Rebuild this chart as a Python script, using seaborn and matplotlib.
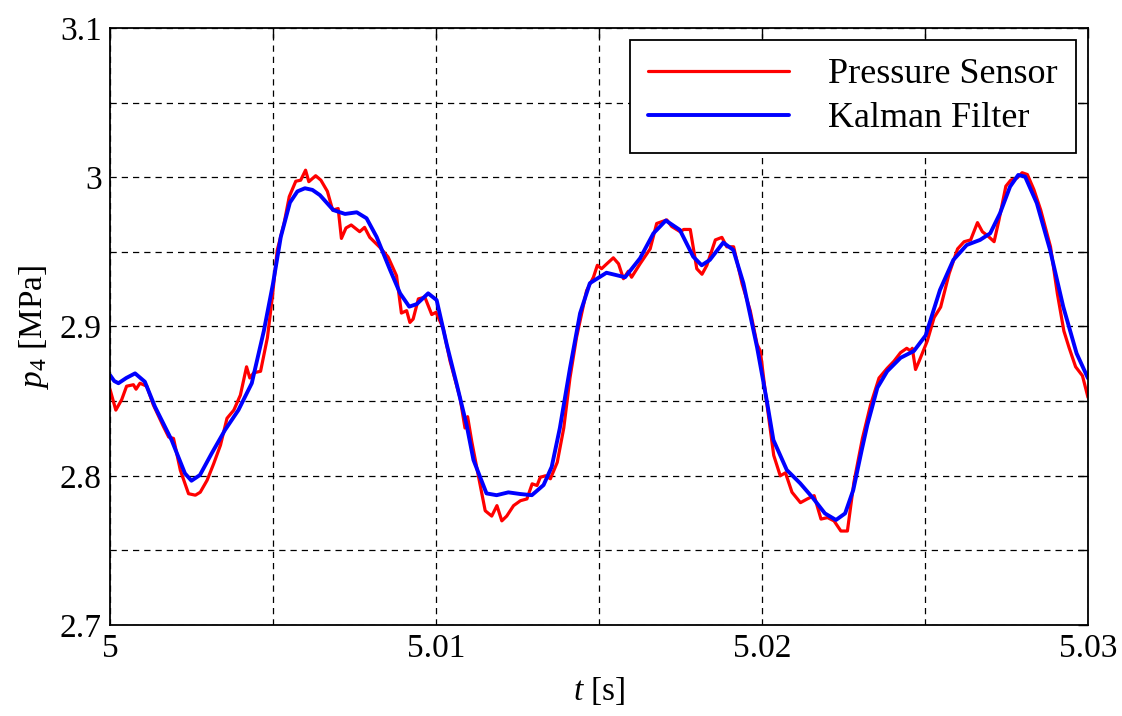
import numpy as np
import pandas as pd
import matplotlib
matplotlib.use("Agg")
import matplotlib.pyplot as plt
import seaborn as sns

# ---- data ----
t_sensor = [5.0, 5.00018, 5.00036, 5.00051, 5.00072, 5.00080, 5.00092, 5.00113, 5.00133, 5.00164,
            5.0018, 5.00195, 5.00216, 5.00241, 5.00262, 5.00277, 5.00298, 5.00318, 5.00339, 5.00359,
            5.0038, 5.004, 5.00419, 5.00429, 5.00441, 5.00462, 5.00483, 5.00498, 5.00513, 5.00534,
            5.0055, 5.0057, 5.00585, 5.006, 5.0061, 5.00631, 5.00647, 5.00667, 5.00683, 5.00700,
            5.0071, 5.00724, 5.0074, 5.00766, 5.00781, 5.00797, 5.00828, 5.00853, 5.00879, 5.00894,
            5.00910, 5.0092, 5.0093, 5.00946, 5.00966, 5.00987, 5.01, 5.01022, 5.01043, 5.01074,
            5.01089, 5.01097, 5.0111, 5.0113, 5.01151, 5.01171, 5.01187, 5.01202, 5.01217, 5.01238,
            5.01259, 5.01279, 5.01295, 5.0131, 5.0132, 5.01336, 5.01351, 5.01372, 5.01392, 5.01411,
            5.01431, 5.01462, 5.01483, 5.01495, 5.01508, 5.01524, 5.01544, 5.0156, 5.01575, 5.0159,
            5.016, 5.01626, 5.01657, 5.01677, 5.01708, 5.01723, 5.01749, 5.0176, 5.0178, 5.018,
            5.01816, 5.01831, 5.01857, 5.01877, 5.01892, 5.01913, 5.01939, 5.01964, 5.01985, 5.01995,
            5.0201, 5.02036, 5.02056, 5.02072, 5.02092, 5.02118, 5.02139, 5.0216, 5.02181, 5.02201,
            5.02221, 5.02242, 5.02262, 5.02282, 5.02308, 5.02333, 5.02359, 5.02384, 5.02405, 5.02425,
            5.02444, 5.02456, 5.02461, 5.02471, 5.02482, 5.02507, 5.02528, 5.02548, 5.02574, 5.026,
            5.0262, 5.0264, 5.02661, 5.02676, 5.02691, 5.02712, 5.02727, 5.02748, 5.02763, 5.02783,
            5.02798, 5.02814, 5.02834, 5.02855, 5.02885, 5.02906, 5.02926, 5.02942, 5.02962, 5.02983,
            5.03]
p_sensor = [2.858, 2.844, 2.851, 2.860, 2.861, 2.858, 2.862, 2.860, 2.8475, 2.833,
            2.826, 2.825, 2.8036, 2.788, 2.787, 2.789, 2.797, 2.808, 2.8205, 2.8385,
            2.844, 2.854, 2.873, 2.8655, 2.869, 2.870, 2.8926, 2.9196, 2.951, 2.969,
            2.987, 2.9973, 2.998, 3.0047, 2.997, 3.001, 2.998, 2.9905, 2.978, 2.979,
            2.959, 2.966, 2.968, 2.9635, 2.9664, 2.9597, 2.953, 2.9466, 2.934, 2.909,
            2.9106, 2.9027, 2.905, 2.9185, 2.9196, 2.908, 2.9095, 2.899, 2.877, 2.852,
            2.832, 2.8396, 2.8227, 2.800, 2.7766, 2.773, 2.780, 2.7698, 2.773, 2.780,
            2.7833, 2.7845, 2.7946, 2.7935, 2.799, 2.800, 2.798, 2.809, 2.832, 2.8655,
            2.8926, 2.924, 2.933, 2.941, 2.9387, 2.942, 2.946, 2.942, 2.932, 2.937,
            2.933, 2.942, 2.952, 2.969, 2.9714, 2.967, 2.9635, 2.965, 2.965, 2.9387,
            2.935, 2.941, 2.958, 2.9597, 2.9534, 2.9534, 2.9286, 2.9106, 2.888, 2.8835,
            2.8565, 2.8137, 2.800, 2.802, 2.789, 2.782, 2.7845, 2.7867, 2.771, 2.772,
            2.7698, 2.763, 2.763, 2.7957, 2.825, 2.8475, 2.8655, 2.872, 2.8768, 2.8825,
            2.8854, 2.8836, 2.8854, 2.8712, 2.8768, 2.8903, 2.906, 2.913, 2.9354, 2.952,
            2.9568, 2.958, 2.9696, 2.9635, 2.961, 2.9568, 2.9714, 2.994, 2.998, 2.9996,
            3.003, 3.0018, 2.9917, 2.978, 2.9534, 2.922, 2.897, 2.8858, 2.873, 2.867,
            2.8525]

t_kalman = [5.0, 5.00013, 5.00026, 5.0005, 5.00077, 5.00107, 5.00138, 5.00189, 5.0023, 5.0025,
            5.00276, 5.00312, 5.00353, 5.00394, 5.00435, 5.00472, 5.005, 5.00524, 5.00552, 5.00575,
            5.00598, 5.00621, 5.00644, 5.00685, 5.00721, 5.00757, 5.00787, 5.00818, 5.00859, 5.0089,
            5.00918, 5.00941, 5.00976, 5.01002, 5.01033, 5.01064, 5.01094, 5.01115, 5.01155, 5.01186,
            5.01222, 5.01258, 5.01294, 5.0133, 5.01355, 5.0138, 5.01411, 5.01442, 5.01472, 5.01523,
            5.0158, 5.01626, 5.01667, 5.01705, 5.01748, 5.01789, 5.01815, 5.0184, 5.01881, 5.01912,
            5.01943, 5.01985, 5.02015, 5.02035, 5.02076, 5.02117, 5.02157, 5.02193, 5.02227, 5.02255,
            5.0228, 5.02306, 5.02323, 5.02354, 5.02384, 5.02425, 5.02466, 5.02502, 5.02546, 5.02587,
            5.02628, 5.02669, 5.027, 5.0273, 5.02761, 5.02786, 5.02807, 5.02843, 5.02884, 5.02924,
            5.02965, 5.03]
p_kalman = [2.8675, 2.8635, 2.862, 2.8655, 2.8686, 2.863, 2.8463, 2.824, 2.8016, 2.7967,
            2.8005, 2.815, 2.8307, 2.844, 2.862, 2.897, 2.9286, 2.960, 2.983, 2.9905,
            2.9926, 2.9915, 2.988, 2.978, 2.9754, 2.9765, 2.9725, 2.960, 2.938, 2.9222,
            2.9133, 2.915, 2.9222, 2.9177, 2.888, 2.861, 2.834, 2.8106, 2.7882, 2.787,
            2.7889, 2.7878, 2.787, 2.7938, 2.806, 2.832, 2.872, 2.9088, 2.929, 2.936,
            2.933, 2.9457, 2.9624, 2.971, 2.9647, 2.9468, 2.941, 2.9446, 2.9562, 2.9513,
            2.929, 2.886, 2.850, 2.824, 2.8039, 2.795, 2.7849, 2.7748, 2.7704, 2.7748,
            2.7905, 2.8173, 2.834, 2.859, 2.870, 2.879, 2.8836, 2.894, 2.9245, 2.9446,
            2.9546, 2.958, 2.9624, 2.9758, 2.9937, 3.0015, 3.0004, 2.9826, 2.951, 2.9133,
            2.882, 2.8653]

series_names = ["Pressure Sensor", "Kalman Filter"]
series_colors = ["#ff0000", "#0000ff"]
x_tick_labels = ["5", "", "5.01", "", "5.02", "", "5.03"]
y_tick_labels = ["2.7", "", "2.8", "", "2.9", "", "3", "", "3.1"]

# ---- style ----
sns.set_style("white")
plt.rcParams["font.family"] = ["Liberation Serif", "DejaVu Serif"]
plt.rcParams["mathtext.fontset"] = "custom"
plt.rcParams["mathtext.rm"] = "Liberation Serif"
plt.rcParams["mathtext.it"] = "Liberation Serif:italic"
plt.rcParams["text.color"] = "black"
plt.rcParams["axes.labelcolor"] = "black"
plt.rcParams["xtick.color"] = "black"
plt.rcParams["ytick.color"] = "black"

df = pd.concat([
    pd.DataFrame({"t": t_sensor, "p": p_sensor, "series": series_names[0]}),
    pd.DataFrame({"t": t_kalman, "p": p_kalman, "series": series_names[1]}),
], ignore_index=True)

fig = plt.figure(figsize=(11.22, 7.16), dpi=100)
ax = fig.add_axes([0.098, 0.127, 0.8717, 0.834])

sns.lineplot(data=df[df.series == series_names[0]], x="t", y="p", ax=ax,
             color=series_colors[0], linewidth=2.3, sort=False, estimator=None,
             label=series_names[0])
sns.lineplot(data=df[df.series == series_names[1]], x="t", y="p", ax=ax,
             color=series_colors[1], linewidth=2.8, sort=False, estimator=None,
             label=series_names[1])

ax.set_xlim(5.0, 5.03)
ax.set_ylim(2.7, 3.1)
xt = [5.0 + 0.005 * i for i in range(len(x_tick_labels))]
yt = [2.7 + 0.05 * i for i in range(len(y_tick_labels))]
ax.set_xticks(xt)
ax.set_xticklabels(x_tick_labels)
ax.set_yticks(yt)
ax.set_yticklabels(y_tick_labels)

ax.grid(True, color="black", linestyle=(0, (5, 4)), linewidth=0.9)
ax.tick_params(direction="in", length=7, width=1.0, labelsize=24, colors="black",
               top=True, right=True, pad=6)
for s in ax.spines.values():
    s.set_visible(True)
    s.set_color("black")
    s.set_linewidth(1.3)

ax.set_xlabel(r"$t$ [s]", fontsize=24, labelpad=8, color="black")
ax.set_ylabel(r"$p_4$ [MPa]", fontsize=24, labelpad=6, color="black")

leg = ax.legend(loc="upper right", fontsize=26, frameon=True, fancybox=False,
                edgecolor="black", framealpha=1.0, handlelength=3.9, handletextpad=1.1,
                borderpad=0.5, labelspacing=0.3, borderaxespad=0.33, labelcolor="black")
leg.get_frame().set_linewidth(1.3)

fig.savefig("out.png", dpi=100)
